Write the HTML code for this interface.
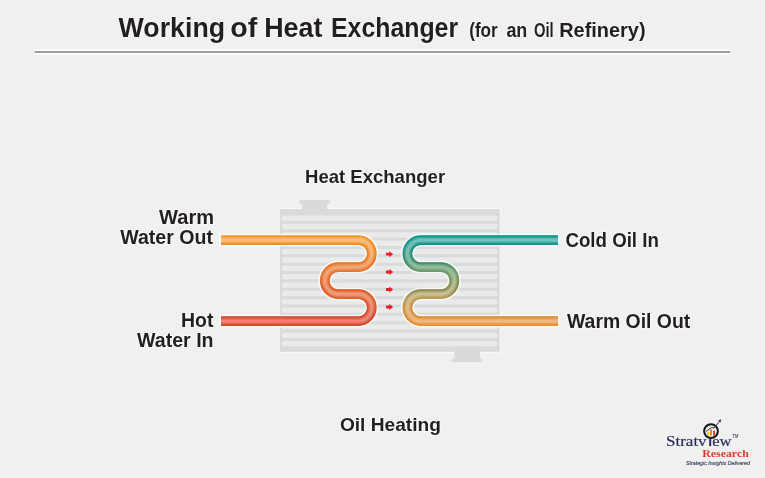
<!DOCTYPE html>
<html><head><meta charset="utf-8">
<style>
html,body{margin:0;padding:0;background:#f0f0f0;}
body{width:765px;height:478px;overflow:hidden;position:relative;}
svg{position:absolute;left:0;top:0;will-change:transform;}
text{font-family:"Liberation Sans",sans-serif;font-weight:bold;fill:#231f20;}
.halo text{fill:#ffffff;stroke:#ffffff;stroke-width:2.2;stroke-linejoin:round;opacity:0.55;}
</style></head><body>
<svg width="765" height="478" viewBox="0 0 765 478">
<defs>
  <filter id="b1" filterUnits="userSpaceOnUse" x="0" y="0" width="765" height="478"><feGaussianBlur stdDeviation="0.8"/></filter>
  <filter id="b2" filterUnits="userSpaceOnUse" x="0" y="0" width="765" height="478"><feGaussianBlur stdDeviation="1.1"/></filter>
  <filter id="bh" filterUnits="userSpaceOnUse" x="0" y="0" width="765" height="478"><feGaussianBlur stdDeviation="0.7"/></filter>
  <clipPath id="pclip"><rect x="221" y="200" width="337" height="150"/></clipPath><!--PD--><linearGradient id="h0" gradientUnits="userSpaceOnUse" x1="0" y1="234" x2="0" y2="328"><stop offset="0.0000" stop-color="#f29a2e"/><stop offset="0.0213" stop-color="#f29a2e"/><stop offset="0.0638" stop-color="#f0942a"/><stop offset="0.1064" stop-color="#ef8f25"/><stop offset="0.3085" stop-color="#e8761e"/><stop offset="0.3511" stop-color="#e87628"/><stop offset="0.3936" stop-color="#e87632"/><stop offset="0.5957" stop-color="#e0581e"/><stop offset="0.6383" stop-color="#e05c26"/><stop offset="0.6809" stop-color="#e0602e"/><stop offset="0.8830" stop-color="#d94428"/><stop offset="0.9255" stop-color="#d9442a"/><stop offset="0.9681" stop-color="#d9442c"/><stop offset="1.0000" stop-color="#d9442c"/></linearGradient><linearGradient id="h1" gradientUnits="userSpaceOnUse" x1="0" y1="234" x2="0" y2="328"><stop offset="0.0000" stop-color="#f29a2e"/><stop offset="0.0213" stop-color="#f29a2e"/><stop offset="0.0638" stop-color="#f0942a"/><stop offset="0.1064" stop-color="#ef8f25"/><stop offset="0.3085" stop-color="#e8761e"/><stop offset="0.3511" stop-color="#e87628"/><stop offset="0.3936" stop-color="#e87632"/><stop offset="0.5957" stop-color="#e0581e"/><stop offset="0.6383" stop-color="#e05c26"/><stop offset="0.6809" stop-color="#e0602e"/><stop offset="0.8830" stop-color="#d94428"/><stop offset="0.9255" stop-color="#d9442a"/><stop offset="0.9681" stop-color="#d9442c"/><stop offset="1.0000" stop-color="#d9442c"/></linearGradient><linearGradient id="h2" gradientUnits="userSpaceOnUse" x1="0" y1="234" x2="0" y2="328"><stop offset="0.0000" stop-color="#f29a2e"/><stop offset="0.0213" stop-color="#f29a2e"/><stop offset="0.0638" stop-color="#f0942a"/><stop offset="0.1064" stop-color="#ef8f25"/><stop offset="0.3085" stop-color="#e8761e"/><stop offset="0.3511" stop-color="#e87628"/><stop offset="0.3936" stop-color="#e87632"/><stop offset="0.5957" stop-color="#e0581e"/><stop offset="0.6383" stop-color="#e05c26"/><stop offset="0.6809" stop-color="#e0602e"/><stop offset="0.8830" stop-color="#d94428"/><stop offset="0.9255" stop-color="#d9442a"/><stop offset="0.9681" stop-color="#d9442c"/><stop offset="1.0000" stop-color="#d9442c"/></linearGradient><linearGradient id="h3" gradientUnits="userSpaceOnUse" x1="0" y1="234" x2="0" y2="328"><stop offset="0.0000" stop-color="#f29e36"/><stop offset="0.0213" stop-color="#f29e36"/><stop offset="0.0638" stop-color="#f19932"/><stop offset="0.1064" stop-color="#f0932e"/><stop offset="0.3085" stop-color="#e97b27"/><stop offset="0.3511" stop-color="#e97b30"/><stop offset="0.3936" stop-color="#e97b39"/><stop offset="0.5957" stop-color="#e15f27"/><stop offset="0.6383" stop-color="#e1622e"/><stop offset="0.6809" stop-color="#e16636"/><stop offset="0.8830" stop-color="#db4b30"/><stop offset="0.9255" stop-color="#db4a32"/><stop offset="0.9681" stop-color="#db4a34"/><stop offset="1.0000" stop-color="#db4a34"/></linearGradient><linearGradient id="h4" gradientUnits="userSpaceOnUse" x1="0" y1="234" x2="0" y2="328"><stop offset="0.0000" stop-color="#f3a442"/><stop offset="0.0213" stop-color="#f3a442"/><stop offset="0.0638" stop-color="#f29f3f"/><stop offset="0.1064" stop-color="#f19a3b"/><stop offset="0.3085" stop-color="#ea8334"/><stop offset="0.3511" stop-color="#ea823c"/><stop offset="0.3936" stop-color="#ea8243"/><stop offset="0.5957" stop-color="#e36a35"/><stop offset="0.6383" stop-color="#e36c3c"/><stop offset="0.6809" stop-color="#e36f41"/><stop offset="0.8830" stop-color="#dd553c"/><stop offset="0.9255" stop-color="#dd553e"/><stop offset="0.9681" stop-color="#dd553f"/><stop offset="1.0000" stop-color="#dd553f"/></linearGradient><linearGradient id="h5" gradientUnits="userSpaceOnUse" x1="0" y1="234" x2="0" y2="328"><stop offset="0.0000" stop-color="#f4a94e"/><stop offset="0.0213" stop-color="#f4a94e"/><stop offset="0.0638" stop-color="#f3a64b"/><stop offset="0.1064" stop-color="#f2a148"/><stop offset="0.3085" stop-color="#eb8b41"/><stop offset="0.3511" stop-color="#eb8a47"/><stop offset="0.3936" stop-color="#eb894e"/><stop offset="0.5957" stop-color="#e57443"/><stop offset="0.6383" stop-color="#e57648"/><stop offset="0.6809" stop-color="#e5774d"/><stop offset="0.8830" stop-color="#df5f48"/><stop offset="0.9255" stop-color="#df5e49"/><stop offset="0.9681" stop-color="#df5e4a"/><stop offset="1.0000" stop-color="#df5e4a"/></linearGradient><linearGradient id="h6" gradientUnits="userSpaceOnUse" x1="0" y1="234" x2="0" y2="328"><stop offset="0.0000" stop-color="#f5ae59"/><stop offset="0.0213" stop-color="#f5ae59"/><stop offset="0.0638" stop-color="#f4ac57"/><stop offset="0.1064" stop-color="#f3a754"/><stop offset="0.3085" stop-color="#ed924d"/><stop offset="0.3511" stop-color="#ec9052"/><stop offset="0.3936" stop-color="#ec9057"/><stop offset="0.5957" stop-color="#e77d4f"/><stop offset="0.6383" stop-color="#e77f54"/><stop offset="0.6809" stop-color="#e77f57"/><stop offset="0.8830" stop-color="#e16953"/><stop offset="0.9255" stop-color="#e16754"/><stop offset="0.9681" stop-color="#e16755"/><stop offset="1.0000" stop-color="#e16755"/></linearGradient><linearGradient id="h7" gradientUnits="userSpaceOnUse" x1="0" y1="234" x2="0" y2="328"><stop offset="0.0000" stop-color="#f5b363"/><stop offset="0.0213" stop-color="#f5b363"/><stop offset="0.0638" stop-color="#f5b162"/><stop offset="0.1064" stop-color="#f3ad5f"/><stop offset="0.3085" stop-color="#ee9959"/><stop offset="0.3511" stop-color="#ed975b"/><stop offset="0.3936" stop-color="#ed9660"/><stop offset="0.5957" stop-color="#e9865b"/><stop offset="0.6383" stop-color="#e9875f"/><stop offset="0.6809" stop-color="#e88661"/><stop offset="0.8830" stop-color="#e4715d"/><stop offset="0.9255" stop-color="#e36f5d"/><stop offset="0.9681" stop-color="#e36f5e"/><stop offset="1.0000" stop-color="#e36f5e"/></linearGradient><linearGradient id="h8" gradientUnits="userSpaceOnUse" x1="0" y1="234" x2="0" y2="328"><stop offset="0.0000" stop-color="#f6b86d"/><stop offset="0.0213" stop-color="#f6b86d"/><stop offset="0.0638" stop-color="#f5b66c"/><stop offset="0.1064" stop-color="#f4b269"/><stop offset="0.3085" stop-color="#ef9f63"/><stop offset="0.3511" stop-color="#ee9c65"/><stop offset="0.3936" stop-color="#ee9b68"/><stop offset="0.5957" stop-color="#eb8e66"/><stop offset="0.6383" stop-color="#ea8e68"/><stop offset="0.6809" stop-color="#ea8d6a"/><stop offset="0.8830" stop-color="#e57966"/><stop offset="0.9255" stop-color="#e57767"/><stop offset="0.9681" stop-color="#e57767"/><stop offset="1.0000" stop-color="#e57767"/></linearGradient><linearGradient id="h9" gradientUnits="userSpaceOnUse" x1="0" y1="234" x2="0" y2="328"><stop offset="0.0000" stop-color="#f6bb75"/><stop offset="0.0213" stop-color="#f6bb75"/><stop offset="0.0638" stop-color="#f6bb74"/><stop offset="0.1064" stop-color="#f5b773"/><stop offset="0.3085" stop-color="#f0a46c"/><stop offset="0.3511" stop-color="#efa26d"/><stop offset="0.3936" stop-color="#eea06f"/><stop offset="0.5957" stop-color="#ec956f"/><stop offset="0.6383" stop-color="#ec9571"/><stop offset="0.6809" stop-color="#eb9372"/><stop offset="0.8830" stop-color="#e7816f"/><stop offset="0.9255" stop-color="#e67e6f"/><stop offset="0.9681" stop-color="#e67e6f"/><stop offset="1.0000" stop-color="#e67e6f"/></linearGradient><linearGradient id="h10" gradientUnits="userSpaceOnUse" x1="0" y1="234" x2="0" y2="328"><stop offset="0.0000" stop-color="#f7bf7c"/><stop offset="0.0213" stop-color="#f7bf7c"/><stop offset="0.0638" stop-color="#f6be7c"/><stop offset="0.1064" stop-color="#f5bb7a"/><stop offset="0.3085" stop-color="#f0a974"/><stop offset="0.3511" stop-color="#efa673"/><stop offset="0.3936" stop-color="#efa475"/><stop offset="0.5957" stop-color="#ed9c77"/><stop offset="0.6383" stop-color="#ed9b79"/><stop offset="0.6809" stop-color="#ec9879"/><stop offset="0.8830" stop-color="#e88776"/><stop offset="0.9255" stop-color="#e88375"/><stop offset="0.9681" stop-color="#e88376"/><stop offset="1.0000" stop-color="#e88376"/></linearGradient><linearGradient id="h11" gradientUnits="userSpaceOnUse" x1="0" y1="234" x2="0" y2="328"><stop offset="0.0000" stop-color="#f7c182"/><stop offset="0.0213" stop-color="#f7c182"/><stop offset="0.0638" stop-color="#f7c181"/><stop offset="0.1064" stop-color="#f6be80"/><stop offset="0.3085" stop-color="#f1ad7a"/><stop offset="0.3511" stop-color="#f0a979"/><stop offset="0.3936" stop-color="#f0a87a"/><stop offset="0.5957" stop-color="#eea07d"/><stop offset="0.6383" stop-color="#ee9f7e"/><stop offset="0.6809" stop-color="#ed9c7e"/><stop offset="0.8830" stop-color="#e98b7b"/><stop offset="0.9255" stop-color="#e9887b"/><stop offset="0.9681" stop-color="#e9887b"/><stop offset="1.0000" stop-color="#e9887b"/></linearGradient><linearGradient id="o0" gradientUnits="userSpaceOnUse" x1="0" y1="234" x2="0" y2="328"><stop offset="0.0000" stop-color="#0a9390"/><stop offset="0.0213" stop-color="#0a9390"/><stop offset="0.0638" stop-color="#0d948d"/><stop offset="0.1064" stop-color="#10948a"/><stop offset="0.3085" stop-color="#3e8a68"/><stop offset="0.3511" stop-color="#549269"/><stop offset="0.3936" stop-color="#6a9a6a"/><stop offset="0.5957" stop-color="#8a8a4a"/><stop offset="0.6383" stop-color="#a1924e"/><stop offset="0.6809" stop-color="#b89a52"/><stop offset="0.8830" stop-color="#dd8a2e"/><stop offset="0.9255" stop-color="#e48c30"/><stop offset="0.9681" stop-color="#ea8d32"/><stop offset="1.0000" stop-color="#ea8d32"/></linearGradient><linearGradient id="o1" gradientUnits="userSpaceOnUse" x1="0" y1="234" x2="0" y2="328"><stop offset="0.0000" stop-color="#0a9390"/><stop offset="0.0213" stop-color="#0a9390"/><stop offset="0.0638" stop-color="#0d948d"/><stop offset="0.1064" stop-color="#10948a"/><stop offset="0.3085" stop-color="#3e8a68"/><stop offset="0.3511" stop-color="#549269"/><stop offset="0.3936" stop-color="#6a9a6a"/><stop offset="0.5957" stop-color="#8a8a4a"/><stop offset="0.6383" stop-color="#a1924e"/><stop offset="0.6809" stop-color="#b89a52"/><stop offset="0.8830" stop-color="#dd8a2e"/><stop offset="0.9255" stop-color="#e48c30"/><stop offset="0.9681" stop-color="#ea8d32"/><stop offset="1.0000" stop-color="#ea8d32"/></linearGradient><linearGradient id="o2" gradientUnits="userSpaceOnUse" x1="0" y1="234" x2="0" y2="328"><stop offset="0.0000" stop-color="#0a9390"/><stop offset="0.0213" stop-color="#0a9390"/><stop offset="0.0638" stop-color="#0d948d"/><stop offset="0.1064" stop-color="#10948a"/><stop offset="0.3085" stop-color="#3e8a68"/><stop offset="0.3511" stop-color="#549269"/><stop offset="0.3936" stop-color="#6a9a6a"/><stop offset="0.5957" stop-color="#8a8a4a"/><stop offset="0.6383" stop-color="#a1924e"/><stop offset="0.6809" stop-color="#b89a52"/><stop offset="0.8830" stop-color="#dd8a2e"/><stop offset="0.9255" stop-color="#e48c30"/><stop offset="0.9681" stop-color="#ea8d32"/><stop offset="1.0000" stop-color="#ea8d32"/></linearGradient><linearGradient id="o3" gradientUnits="userSpaceOnUse" x1="0" y1="234" x2="0" y2="328"><stop offset="0.0000" stop-color="#159895"/><stop offset="0.0213" stop-color="#159895"/><stop offset="0.0638" stop-color="#179892"/><stop offset="0.1064" stop-color="#1a988f"/><stop offset="0.3085" stop-color="#468f6e"/><stop offset="0.3511" stop-color="#5a966e"/><stop offset="0.3936" stop-color="#6f9e6f"/><stop offset="0.5957" stop-color="#908f51"/><stop offset="0.6383" stop-color="#a59755"/><stop offset="0.6809" stop-color="#ba9e58"/><stop offset="0.8830" stop-color="#de8f37"/><stop offset="0.9255" stop-color="#e59038"/><stop offset="0.9681" stop-color="#ea913a"/><stop offset="1.0000" stop-color="#ea913a"/></linearGradient><linearGradient id="o4" gradientUnits="userSpaceOnUse" x1="0" y1="234" x2="0" y2="328"><stop offset="0.0000" stop-color="#259f9b"/><stop offset="0.0213" stop-color="#259f9b"/><stop offset="0.0638" stop-color="#279f99"/><stop offset="0.1064" stop-color="#2a9f96"/><stop offset="0.3085" stop-color="#529777"/><stop offset="0.3511" stop-color="#649d76"/><stop offset="0.3936" stop-color="#76a377"/><stop offset="0.5957" stop-color="#98975d"/><stop offset="0.6383" stop-color="#ac9d60"/><stop offset="0.6809" stop-color="#bea362"/><stop offset="0.8830" stop-color="#e09644"/><stop offset="0.9255" stop-color="#e69745"/><stop offset="0.9681" stop-color="#eb9847"/><stop offset="1.0000" stop-color="#eb9847"/></linearGradient><linearGradient id="o5" gradientUnits="userSpaceOnUse" x1="0" y1="234" x2="0" y2="328"><stop offset="0.0000" stop-color="#34a6a2"/><stop offset="0.0213" stop-color="#34a6a2"/><stop offset="0.0638" stop-color="#36a6a0"/><stop offset="0.1064" stop-color="#3aa69d"/><stop offset="0.3085" stop-color="#5d9e7f"/><stop offset="0.3511" stop-color="#6da37e"/><stop offset="0.3936" stop-color="#7da87e"/><stop offset="0.5957" stop-color="#a09f68"/><stop offset="0.6383" stop-color="#b2a46a"/><stop offset="0.6809" stop-color="#c2a96c"/><stop offset="0.8830" stop-color="#e29d51"/><stop offset="0.9255" stop-color="#e89e51"/><stop offset="0.9681" stop-color="#ec9f52"/><stop offset="1.0000" stop-color="#ec9f52"/></linearGradient><linearGradient id="o6" gradientUnits="userSpaceOnUse" x1="0" y1="234" x2="0" y2="328"><stop offset="0.0000" stop-color="#43aca8"/><stop offset="0.0213" stop-color="#43aca8"/><stop offset="0.0638" stop-color="#44aca7"/><stop offset="0.1064" stop-color="#48aca3"/><stop offset="0.3085" stop-color="#68a587"/><stop offset="0.3511" stop-color="#75a985"/><stop offset="0.3936" stop-color="#84ad85"/><stop offset="0.5957" stop-color="#a8a672"/><stop offset="0.6383" stop-color="#b7aa74"/><stop offset="0.6809" stop-color="#c5ae74"/><stop offset="0.8830" stop-color="#e4a45d"/><stop offset="0.9255" stop-color="#e9a45d"/><stop offset="0.9681" stop-color="#eda55e"/><stop offset="1.0000" stop-color="#eda55e"/></linearGradient><linearGradient id="o7" gradientUnits="userSpaceOnUse" x1="0" y1="234" x2="0" y2="328"><stop offset="0.0000" stop-color="#50b2ae"/><stop offset="0.0213" stop-color="#50b2ae"/><stop offset="0.0638" stop-color="#51b2ad"/><stop offset="0.1064" stop-color="#55b2a9"/><stop offset="0.3085" stop-color="#72ac8e"/><stop offset="0.3511" stop-color="#7dae8c"/><stop offset="0.3936" stop-color="#8ab28b"/><stop offset="0.5957" stop-color="#afad7c"/><stop offset="0.6383" stop-color="#bdb07c"/><stop offset="0.6809" stop-color="#c8b37c"/><stop offset="0.8830" stop-color="#e5aa68"/><stop offset="0.9255" stop-color="#ebaa67"/><stop offset="0.9681" stop-color="#edab68"/><stop offset="1.0000" stop-color="#edab68"/></linearGradient><linearGradient id="o8" gradientUnits="userSpaceOnUse" x1="0" y1="234" x2="0" y2="328"><stop offset="0.0000" stop-color="#5db7b3"/><stop offset="0.0213" stop-color="#5db7b3"/><stop offset="0.0638" stop-color="#5db7b3"/><stop offset="0.1064" stop-color="#61b7ae"/><stop offset="0.3085" stop-color="#7bb295"/><stop offset="0.3511" stop-color="#84b392"/><stop offset="0.3936" stop-color="#90b691"/><stop offset="0.5957" stop-color="#b5b384"/><stop offset="0.6383" stop-color="#c1b585"/><stop offset="0.6809" stop-color="#cbb784"/><stop offset="0.8830" stop-color="#e7b072"/><stop offset="0.9255" stop-color="#ecaf71"/><stop offset="0.9681" stop-color="#eeb071"/><stop offset="1.0000" stop-color="#eeb071"/></linearGradient><linearGradient id="o9" gradientUnits="userSpaceOnUse" x1="0" y1="234" x2="0" y2="328"><stop offset="0.0000" stop-color="#68bcb8"/><stop offset="0.0213" stop-color="#68bcb8"/><stop offset="0.0638" stop-color="#68bcb8"/><stop offset="0.1064" stop-color="#6cbcb3"/><stop offset="0.3085" stop-color="#83b79b"/><stop offset="0.3511" stop-color="#8ab897"/><stop offset="0.3936" stop-color="#95b996"/><stop offset="0.5957" stop-color="#bbb88c"/><stop offset="0.6383" stop-color="#c6ba8c"/><stop offset="0.6809" stop-color="#cebb8b"/><stop offset="0.8830" stop-color="#e8b57b"/><stop offset="0.9255" stop-color="#edb47a"/><stop offset="0.9681" stop-color="#eeb47a"/><stop offset="1.0000" stop-color="#eeb47a"/></linearGradient><linearGradient id="o10" gradientUnits="userSpaceOnUse" x1="0" y1="234" x2="0" y2="328"><stop offset="0.0000" stop-color="#71c0bc"/><stop offset="0.0213" stop-color="#71c0bc"/><stop offset="0.0638" stop-color="#71c0bc"/><stop offset="0.1064" stop-color="#75bfb7"/><stop offset="0.3085" stop-color="#8abba0"/><stop offset="0.3511" stop-color="#90bb9c"/><stop offset="0.3936" stop-color="#99bc9b"/><stop offset="0.5957" stop-color="#c0bd93"/><stop offset="0.6383" stop-color="#c9be92"/><stop offset="0.6809" stop-color="#d0be90"/><stop offset="0.8830" stop-color="#e9b983"/><stop offset="0.9255" stop-color="#eeb881"/><stop offset="0.9681" stop-color="#efb881"/><stop offset="1.0000" stop-color="#efb881"/></linearGradient><linearGradient id="o11" gradientUnits="userSpaceOnUse" x1="0" y1="234" x2="0" y2="328"><stop offset="0.0000" stop-color="#78c3bf"/><stop offset="0.0213" stop-color="#78c3bf"/><stop offset="0.0638" stop-color="#78c3bf"/><stop offset="0.1064" stop-color="#7cc2ba"/><stop offset="0.3085" stop-color="#90bfa4"/><stop offset="0.3511" stop-color="#94be9f"/><stop offset="0.3936" stop-color="#9cbf9e"/><stop offset="0.5957" stop-color="#c4c198"/><stop offset="0.6383" stop-color="#ccc197"/><stop offset="0.6809" stop-color="#d2c094"/><stop offset="0.8830" stop-color="#eabc89"/><stop offset="0.9255" stop-color="#efbb86"/><stop offset="0.9681" stop-color="#efbb87"/><stop offset="1.0000" stop-color="#efbb87"/></linearGradient><!--/PD-->
  <filter id="bs" filterUnits="userSpaceOnUse" x="0" y="0" width="765" height="478"><feGaussianBlur stdDeviation="0.35"/></filter>
</defs>

<!-- title rule -->
<rect x="33.5" y="49.5" width="698" height="5" rx="2.5" fill="#ffffff" filter="url(#bh)"/>
<rect x="34.5" y="51" width="696" height="2" fill="#9d9d9d"/>

<!-- exchanger body -->
<g fill="none" stroke="#ffffff" stroke-opacity="0.45" stroke-width="2" filter="url(#bh)"><rect x="279.2" y="208.6" width="221.1" height="143.7"/></g>
<g fill="#d9dbda">
  <rect x="298.9" y="200" width="31.5" height="3.8" rx="1.9"/>
  <rect x="302.1" y="202" width="25" height="8"/>
  <rect x="279.7" y="209.1" width="220.1" height="142.7"/>
  <rect x="454.4" y="351" width="25.6" height="8"/>
  <rect x="451.5" y="358.4" width="31.1" height="3.7" rx="1.85"/>
</g>
<g fill="#e9ebea" id="stripes"><rect x="281.8" y="215.50" width="215.7" height="5.3" rx="2.65"/><rect x="281.8" y="223.87" width="215.7" height="5.3" rx="2.65"/><rect x="281.8" y="232.23" width="215.7" height="5.3" rx="2.65"/><rect x="281.8" y="240.60" width="215.7" height="5.3" rx="2.65"/><rect x="281.8" y="248.97" width="215.7" height="5.3" rx="2.65"/><rect x="281.8" y="257.34" width="215.7" height="5.3" rx="2.65"/><rect x="281.8" y="265.70" width="215.7" height="5.3" rx="2.65"/><rect x="281.8" y="274.07" width="215.7" height="5.3" rx="2.65"/><rect x="281.8" y="282.44" width="215.7" height="5.3" rx="2.65"/><rect x="281.8" y="290.80" width="215.7" height="5.3" rx="2.65"/><rect x="281.8" y="299.17" width="215.7" height="5.3" rx="2.65"/><rect x="281.8" y="307.54" width="215.7" height="5.3" rx="2.65"/><rect x="281.8" y="315.90" width="215.7" height="5.3" rx="2.65"/><rect x="281.8" y="324.27" width="215.7" height="5.3" rx="2.65"/><rect x="281.8" y="332.64" width="215.7" height="5.3" rx="2.65"/><rect x="281.8" y="341.00" width="215.7" height="5.3" rx="2.65"/></g>

<!-- pipes -->
<g fill="none" stroke-linecap="butt"><!--PP--><path d="M219.4 240.1H358.3A13.5 13.5 0 0 1 358.3 267.1H338.3A13.5 13.5 0 0 0 338.3 294.1H358.3A13.5 13.5 0 0 1 358.3 321.1H219.4" stroke="#ffffff" stroke-opacity="0.75" stroke-width="12.9" filter="url(#bh)"/><path d="M221 240.1H358.3A13.5 13.5 0 0 1 358.3 267.1H338.3A13.5 13.5 0 0 0 338.3 294.1H358.3A13.5 13.5 0 0 1 358.3 321.1H221" stroke="url(#h0)" stroke-width="9.70" clip-path="url(#pclip)"/><path d="M221 240.1H358.3A13.5 13.5 0 0 1 358.3 267.1H338.3A13.5 13.5 0 0 0 338.3 294.1H358.3A13.5 13.5 0 0 1 358.3 321.1H221" stroke="url(#h1)" stroke-width="8.89" filter="url(#bs)" clip-path="url(#pclip)"/><path d="M221 240.1H358.3A13.5 13.5 0 0 1 358.3 267.1H338.3A13.5 13.5 0 0 0 338.3 294.1H358.3A13.5 13.5 0 0 1 358.3 321.1H221" stroke="url(#h2)" stroke-width="8.08" filter="url(#bs)" clip-path="url(#pclip)"/><path d="M221 240.1H358.3A13.5 13.5 0 0 1 358.3 267.1H338.3A13.5 13.5 0 0 0 338.3 294.1H358.3A13.5 13.5 0 0 1 358.3 321.1H221" stroke="url(#h3)" stroke-width="7.27" filter="url(#bs)" clip-path="url(#pclip)"/><path d="M221 240.1H358.3A13.5 13.5 0 0 1 358.3 267.1H338.3A13.5 13.5 0 0 0 338.3 294.1H358.3A13.5 13.5 0 0 1 358.3 321.1H221" stroke="url(#h4)" stroke-width="6.47" filter="url(#bs)" clip-path="url(#pclip)"/><path d="M221 240.1H358.3A13.5 13.5 0 0 1 358.3 267.1H338.3A13.5 13.5 0 0 0 338.3 294.1H358.3A13.5 13.5 0 0 1 358.3 321.1H221" stroke="url(#h5)" stroke-width="5.66" filter="url(#bs)" clip-path="url(#pclip)"/><path d="M221 240.1H358.3A13.5 13.5 0 0 1 358.3 267.1H338.3A13.5 13.5 0 0 0 338.3 294.1H358.3A13.5 13.5 0 0 1 358.3 321.1H221" stroke="url(#h6)" stroke-width="4.85" filter="url(#bs)" clip-path="url(#pclip)"/><path d="M221 240.1H358.3A13.5 13.5 0 0 1 358.3 267.1H338.3A13.5 13.5 0 0 0 338.3 294.1H358.3A13.5 13.5 0 0 1 358.3 321.1H221" stroke="url(#h7)" stroke-width="4.04" filter="url(#bs)" clip-path="url(#pclip)"/><path d="M221 240.1H358.3A13.5 13.5 0 0 1 358.3 267.1H338.3A13.5 13.5 0 0 0 338.3 294.1H358.3A13.5 13.5 0 0 1 358.3 321.1H221" stroke="url(#h8)" stroke-width="3.23" filter="url(#bs)" clip-path="url(#pclip)"/><path d="M221 240.1H358.3A13.5 13.5 0 0 1 358.3 267.1H338.3A13.5 13.5 0 0 0 338.3 294.1H358.3A13.5 13.5 0 0 1 358.3 321.1H221" stroke="url(#h9)" stroke-width="2.42" filter="url(#bs)" clip-path="url(#pclip)"/><path d="M221 240.1H358.3A13.5 13.5 0 0 1 358.3 267.1H338.3A13.5 13.5 0 0 0 338.3 294.1H358.3A13.5 13.5 0 0 1 358.3 321.1H221" stroke="url(#h10)" stroke-width="1.62" filter="url(#bs)" clip-path="url(#pclip)"/><path d="M221 240.1H358.3A13.5 13.5 0 0 1 358.3 267.1H338.3A13.5 13.5 0 0 0 338.3 294.1H358.3A13.5 13.5 0 0 1 358.3 321.1H221" stroke="url(#h11)" stroke-width="0.81" filter="url(#bs)" clip-path="url(#pclip)"/><path d="M559.6 240.1H420.9A13.5 13.5 0 0 0 420.9 267.1H440.9A13.5 13.5 0 0 1 440.9 294.1H420.9A13.5 13.5 0 0 0 420.9 321.1H559.6" stroke="#ffffff" stroke-opacity="0.75" stroke-width="12.9" filter="url(#bh)"/><path d="M558 240.1H420.9A13.5 13.5 0 0 0 420.9 267.1H440.9A13.5 13.5 0 0 1 440.9 294.1H420.9A13.5 13.5 0 0 0 420.9 321.1H558" stroke="url(#o0)" stroke-width="9.70" clip-path="url(#pclip)"/><path d="M558 240.1H420.9A13.5 13.5 0 0 0 420.9 267.1H440.9A13.5 13.5 0 0 1 440.9 294.1H420.9A13.5 13.5 0 0 0 420.9 321.1H558" stroke="url(#o1)" stroke-width="8.89" filter="url(#bs)" clip-path="url(#pclip)"/><path d="M558 240.1H420.9A13.5 13.5 0 0 0 420.9 267.1H440.9A13.5 13.5 0 0 1 440.9 294.1H420.9A13.5 13.5 0 0 0 420.9 321.1H558" stroke="url(#o2)" stroke-width="8.08" filter="url(#bs)" clip-path="url(#pclip)"/><path d="M558 240.1H420.9A13.5 13.5 0 0 0 420.9 267.1H440.9A13.5 13.5 0 0 1 440.9 294.1H420.9A13.5 13.5 0 0 0 420.9 321.1H558" stroke="url(#o3)" stroke-width="7.27" filter="url(#bs)" clip-path="url(#pclip)"/><path d="M558 240.1H420.9A13.5 13.5 0 0 0 420.9 267.1H440.9A13.5 13.5 0 0 1 440.9 294.1H420.9A13.5 13.5 0 0 0 420.9 321.1H558" stroke="url(#o4)" stroke-width="6.47" filter="url(#bs)" clip-path="url(#pclip)"/><path d="M558 240.1H420.9A13.5 13.5 0 0 0 420.9 267.1H440.9A13.5 13.5 0 0 1 440.9 294.1H420.9A13.5 13.5 0 0 0 420.9 321.1H558" stroke="url(#o5)" stroke-width="5.66" filter="url(#bs)" clip-path="url(#pclip)"/><path d="M558 240.1H420.9A13.5 13.5 0 0 0 420.9 267.1H440.9A13.5 13.5 0 0 1 440.9 294.1H420.9A13.5 13.5 0 0 0 420.9 321.1H558" stroke="url(#o6)" stroke-width="4.85" filter="url(#bs)" clip-path="url(#pclip)"/><path d="M558 240.1H420.9A13.5 13.5 0 0 0 420.9 267.1H440.9A13.5 13.5 0 0 1 440.9 294.1H420.9A13.5 13.5 0 0 0 420.9 321.1H558" stroke="url(#o7)" stroke-width="4.04" filter="url(#bs)" clip-path="url(#pclip)"/><path d="M558 240.1H420.9A13.5 13.5 0 0 0 420.9 267.1H440.9A13.5 13.5 0 0 1 440.9 294.1H420.9A13.5 13.5 0 0 0 420.9 321.1H558" stroke="url(#o8)" stroke-width="3.23" filter="url(#bs)" clip-path="url(#pclip)"/><path d="M558 240.1H420.9A13.5 13.5 0 0 0 420.9 267.1H440.9A13.5 13.5 0 0 1 440.9 294.1H420.9A13.5 13.5 0 0 0 420.9 321.1H558" stroke="url(#o9)" stroke-width="2.42" filter="url(#bs)" clip-path="url(#pclip)"/><path d="M558 240.1H420.9A13.5 13.5 0 0 0 420.9 267.1H440.9A13.5 13.5 0 0 1 440.9 294.1H420.9A13.5 13.5 0 0 0 420.9 321.1H558" stroke="url(#o10)" stroke-width="1.62" filter="url(#bs)" clip-path="url(#pclip)"/><path d="M558 240.1H420.9A13.5 13.5 0 0 0 420.9 267.1H440.9A13.5 13.5 0 0 1 440.9 294.1H420.9A13.5 13.5 0 0 0 420.9 321.1H558" stroke="url(#o11)" stroke-width="0.81" filter="url(#bs)" clip-path="url(#pclip)"/><!--/PP--></g>

<!-- arrows -->
<g fill="#f21c24" id="arrows">
  <path d="M386 252.8H389.3V251.2L393.2 254.2L389.3 257.2V255.6H386Z"/>
  <path d="M386 270.6H389.3V269L393.2 272L389.3 275V273.4H386Z"/>
  <path d="M386 288.1H389.3V286.5L393.2 289.5L389.3 292.5V290.9H386Z"/>
  <path d="M386 305.6H389.3V304L393.2 307L389.3 310V308.4H386Z"/>
</g>

<!-- texts -->
<g class="halo" filter="url(#bh)">
<text x="118.6" y="37.1" font-size="28" textLength="106.5" lengthAdjust="spacingAndGlyphs">Working</text><text x="230.3" y="37.1" font-size="28" textLength="27" lengthAdjust="spacingAndGlyphs">of</text><text x="264.2" y="37.1" font-size="28" textLength="58.2" lengthAdjust="spacingAndGlyphs">Heat</text><text x="331" y="37.1" font-size="28" textLength="127.1" lengthAdjust="spacingAndGlyphs">Exchanger</text>
<text x="469.2" y="37.2" font-size="19.4" textLength="28.6" lengthAdjust="spacingAndGlyphs">(for</text><text x="506.4" y="37.2" font-size="19.4" textLength="20.9" lengthAdjust="spacingAndGlyphs">an</text><text x="534" y="37.2" font-size="19.4" textLength="19.7" lengthAdjust="spacingAndGlyphs">Oil</text><text x="559.2" y="37.2" font-size="19.4" textLength="86.4" lengthAdjust="spacingAndGlyphs">Refinery)</text>
<text x="305" y="182.6" font-size="19" textLength="140.1" lengthAdjust="spacingAndGlyphs">Heat Exchanger</text>
<text x="159.1" y="224.2" font-size="19.8" textLength="55" lengthAdjust="spacingAndGlyphs">Warm</text>
<text x="120.2" y="244.1" font-size="19.8" textLength="92.8" lengthAdjust="spacingAndGlyphs">Water Out</text>
<text x="181" y="327.4" font-size="19.6" textLength="32.4" lengthAdjust="spacingAndGlyphs">Hot</text>
<text x="137" y="347" font-size="19.8" textLength="76.6" lengthAdjust="spacingAndGlyphs">Water In</text>
<text x="565.5" y="247.4" font-size="19.3" textLength="93.3" lengthAdjust="spacingAndGlyphs">Cold Oil In</text>
<text x="567" y="327.6" font-size="19.3" textLength="123.3" lengthAdjust="spacingAndGlyphs">Warm Oil Out</text>
<text x="339.9" y="430.7" font-size="19" textLength="101" lengthAdjust="spacingAndGlyphs">Oil Heating</text>
</g>
<text x="118.6" y="37.1" font-size="28" textLength="106.5" lengthAdjust="spacingAndGlyphs">Working</text><text x="230.3" y="37.1" font-size="28" textLength="27" lengthAdjust="spacingAndGlyphs">of</text><text x="264.2" y="37.1" font-size="28" textLength="58.2" lengthAdjust="spacingAndGlyphs">Heat</text><text x="331" y="37.1" font-size="28" textLength="127.1" lengthAdjust="spacingAndGlyphs">Exchanger</text>
<text x="469.2" y="37.2" font-size="19.4" textLength="28.6" lengthAdjust="spacingAndGlyphs">(for</text><text x="506.4" y="37.2" font-size="19.4" textLength="20.9" lengthAdjust="spacingAndGlyphs">an</text><text x="534" y="37.2" font-size="19.4" textLength="19.7" lengthAdjust="spacingAndGlyphs">Oil</text><text x="559.2" y="37.2" font-size="19.4" textLength="86.4" lengthAdjust="spacingAndGlyphs">Refinery)</text>
<text x="305" y="182.6" font-size="19" textLength="140.1" lengthAdjust="spacingAndGlyphs">Heat Exchanger</text>
<text x="159.1" y="224.2" font-size="19.8" textLength="55" lengthAdjust="spacingAndGlyphs">Warm</text>
<text x="120.2" y="244.1" font-size="19.8" textLength="92.8" lengthAdjust="spacingAndGlyphs">Water Out</text>
<text x="181" y="327.4" font-size="19.6" textLength="32.4" lengthAdjust="spacingAndGlyphs">Hot</text>
<text x="137" y="347" font-size="19.8" textLength="76.6" lengthAdjust="spacingAndGlyphs">Water In</text>
<text x="565.5" y="247.4" font-size="19.3" textLength="93.3" lengthAdjust="spacingAndGlyphs">Cold Oil In</text>
<text x="567" y="327.6" font-size="19.3" textLength="123.3" lengthAdjust="spacingAndGlyphs">Warm Oil Out</text>
<text x="339.9" y="430.7" font-size="19" textLength="101" lengthAdjust="spacingAndGlyphs">Oil Heating</text>

<!-- logo -->
<g id="logo">
  <text x="666" y="445.9" font-size="15.4" style="font-family:'Liberation Serif',serif;font-weight:normal;fill:#262d58;stroke:#262d58;stroke-width:0.2" textLength="40.6" lengthAdjust="spacingAndGlyphs">Stratv</text>
  <text x="712.2" y="445.9" font-size="15.4" style="font-family:'Liberation Serif',serif;font-weight:normal;fill:#262d58;stroke:#262d58;stroke-width:0.2" textLength="19.4" lengthAdjust="spacingAndGlyphs">ew</text>
  <text x="732.6" y="438.2" font-size="4.6" style="font-family:'Liberation Sans',sans-serif;font-weight:bold;fill:#555a6a" textLength="5.8" lengthAdjust="spacingAndGlyphs">TM</text>
  <text x="702.2" y="457" font-size="11.3" style="font-family:'Liberation Serif',serif;font-weight:bold;fill:#e03a30" textLength="46.6" lengthAdjust="spacingAndGlyphs">Research</text>
  <text x="686.1" y="464.7" font-size="6.2" style="font-family:'Liberation Sans',sans-serif;font-weight:normal;font-style:italic;fill:#454a66;stroke:#454a66;stroke-width:0.2" textLength="63.8" lengthAdjust="spacingAndGlyphs">Strategic Insights Delivered</text>
  <circle cx="711" cy="431.1" r="6.9" fill="#f2f2f2" stroke="#141414" stroke-width="2"/>
  <rect x="707.2" y="431.7" width="1.8" height="3.9" fill="#f5c518"/>
  <rect x="710" y="429.2" width="2" height="6.4" fill="#f08a20"/>
  <rect x="713.1" y="430.6" width="1.9" height="5" fill="#e0402a"/>
  <path d="M706.1 431.4L711.7 427.4L714.2 428.1L720 420.6" fill="none" stroke="#28305c" stroke-width="1"/>
  <path d="M721.2 419.2L718.2 420.6L720.6 422.4Z" fill="#28305c"/>
  <rect x="709.2" y="437.5" width="2" height="8.6" fill="#28305c"/>
</g>
</svg>
</body></html>
